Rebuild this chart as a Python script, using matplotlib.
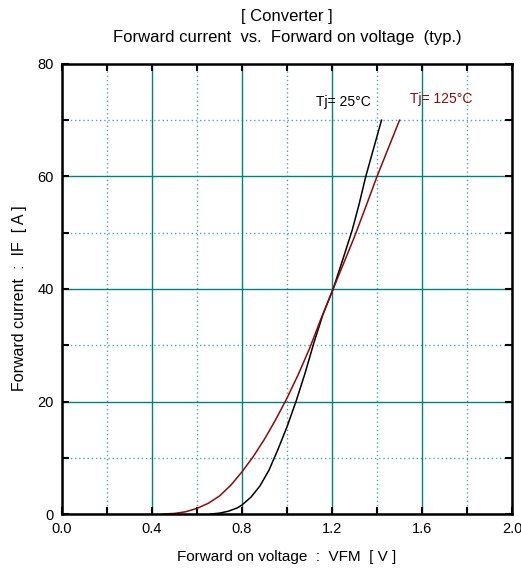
import matplotlib
matplotlib.use("Agg")
import matplotlib.pyplot as plt
from matplotlib.ticker import MultipleLocator, FormatStrFormatter

plt.rcParams['font.family'] = ['Liberation Sans', 'DejaVu Sans']

# Tj = 25 C
v_25 = [0.66, 0.70, 0.74, 0.78, 0.80, 0.84, 0.88, 0.92, 0.96, 1.00, 1.04,
        1.08, 1.12, 1.16, 1.205, 1.25, 1.29, 1.32, 1.35, 1.385, 1.42]
i_25 = [0, 0.15, 0.5, 1.1, 1.6, 3.0, 5.0, 7.8, 11.5, 15.5, 20,
        25, 30.5, 35.5, 40, 45.5, 50.5, 55, 60, 65, 70]

# Tj = 125 C
v_125 = [0.45, 0.50, 0.55, 0.60, 0.65, 0.70, 0.75, 0.80, 0.85, 0.90, 0.95,
         1.00, 1.05, 1.10, 1.15, 1.205, 1.25, 1.30, 1.35, 1.40, 1.45, 1.50]
i_125 = [0, 0.1, 0.4, 1.0, 1.9, 3.2, 5.1, 7.5, 10.2, 13.3, 16.8,
         20.6, 24.8, 29.4, 34.6, 40, 44.4, 49.3, 54.6, 60, 65, 70]

teal = '#008080'
dark_red = '#8b0a0a'

fig = plt.figure(figsize=(5.21, 5.73), dpi=100)
ax = fig.add_axes([62 / 521, 59 / 573, 450 / 521, 450 / 573])

ax.plot(v_25, i_25, color='black', lw=1.1)
ax.plot(v_125, i_125, color=dark_red, lw=1.1)

ax.set_xlim(0, 2.0)
ax.set_ylim(0, 80)
ax.xaxis.set_major_locator(MultipleLocator(0.4))
ax.xaxis.set_minor_locator(MultipleLocator(0.2))
ax.yaxis.set_major_locator(MultipleLocator(20))
ax.yaxis.set_minor_locator(MultipleLocator(10))
ax.xaxis.set_major_formatter(FormatStrFormatter('%.1f'))

ax.grid(which='major', color=teal, lw=1.0, ls='-')
ax.grid(which='minor', color=teal, lw=1.0, ls=(0, (1, 2)), alpha=0.7)
ax.set_axisbelow(True)

ax.tick_params(which='both', direction='in', top=True, right=True,
               length=5, width=1.5, labelsize=10.5, color='black', pad=6)
for s in ax.spines.values():
    s.set_linewidth(1.8)

ax.text(1.13, 73.2, 'Tj= 25°C', color='black', fontsize=10, va='center')
ax.text(1.545, 73.7, 'Tj= 125°C', color=dark_red, fontsize=10, va='center')

ax.set_title('[ Converter ]\nForward current  vs.  Forward on voltage  (typ.)',
             fontsize=12, pad=16, linespacing=1.45)
ax.set_xlabel('Forward on voltage  :  VFM  [ V ]', fontsize=11, labelpad=10)
ax.set_ylabel('Forward current  :  IF  [ A ]', fontsize=11.5)
ax.yaxis.set_label_coords(-0.077, 0.48)

fig.savefig('out.png', dpi=100)
